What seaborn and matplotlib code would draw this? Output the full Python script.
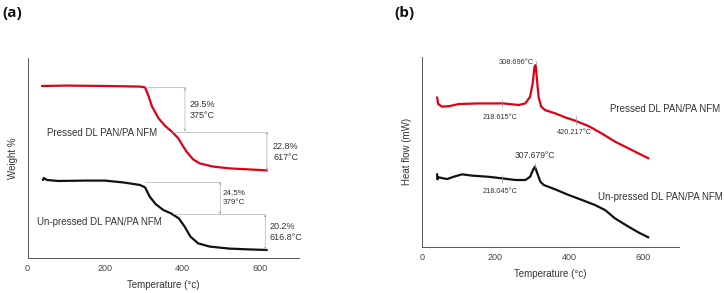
import numpy as np
import pandas as pd
import matplotlib
matplotlib.use("Agg")
import matplotlib.pyplot as plt
import seaborn as sns

# (a) TGA curves, weight in arbitrary display units
tga_pressed_T = [37, 100, 200, 290, 303, 311, 321, 338, 355, 372, 389, 399, 410, 427, 444, 478, 521, 570, 617]
tga_pressed_w = [86, 86.2, 86, 85.7, 85.3, 81.5, 75.7, 69.8, 66, 63.2, 59.8, 56.5, 53.2, 49.3, 47.3, 45.7, 44.8, 44.3, 43.8]
tga_unpressed_T = [40, 42, 50, 80, 150, 200, 250, 290, 303, 315, 330, 350, 370, 390, 405, 420, 440, 470, 520, 570, 617]
tga_unpressed_w = [39, 40, 39, 38.5, 38.7, 38.7, 37.7, 36.5, 35.3, 30.7, 27, 24, 22.3, 19.8, 15.7, 10.7, 7.3, 5.7, 4.7, 4.3, 4]

# (b) DSC curves, heat flow in arbitrary display units
dsc_pressed_T = [41, 44, 54, 75, 100, 154, 222, 263, 281, 294, 301, 306, 309, 312, 317, 324, 335, 362, 389, 417, 453, 489, 525, 553, 589, 616]
dsc_pressed_h = [78.6, 75.1, 73.7, 74.0, 75.1, 75.4, 75.4, 74.6, 75.4, 78.9, 86, 94.7, 95.6, 89.5, 78.9, 73.7, 71.9, 70.2, 68.1, 66.3, 63.5, 59.6, 55.3, 52.6, 49.1, 46.5]
dsc_unpressed_T = [41, 42, 45, 68, 86, 109, 136, 181, 217, 254, 281, 294, 302, 307, 312, 322, 331, 362, 399, 435, 471, 498, 525, 562, 589, 616]
dsc_unpressed_h = [38.2, 35.5, 36.5, 35.6, 36.8, 38.1, 37.4, 36.8, 36.0, 35.1, 35.1, 36.8, 40.4, 42.1, 39.5, 34.2, 32.5, 30.2, 27.2, 24.6, 21.9, 19.3, 14.9, 10.5, 7.5, 4.9]

labels = ["Pressed DL PAN/PA NFM", "Un-pressed DL PAN/PA NFM"]
xticks = [0, 200, 400, 600]

# weight-loss steps
tga_steps = [
    (303, 85.3, 406, 63.2, 372, 617, 43.8, "29.5%\n375°C", "22.8%\n617°C", (417, 74.2), (633, 53.2)),
    (303, 38.2, 497, 21.8, 375, 613, 4.0, "24.5%\n379°C", "20.2%\n616.8°C", (504, 29.9), (623, 13.0)),
]

# dsc peak markers: (T, y0, y1, text, text_x, text_y, ha)
dsc_marks = [
    (309, 95.6, 97.8, "308.696°C", 303, 97.0, "right"),
    (218.6, 73.7, 77.2, "218.615°C", 213, 68.1, "center"),
    (420.2, 64.0, 68.8, "420.217°C", 414, 60.0, "center"),
    (307.7, 41.2, 43.9, "307.679°C", 308, 48.1, "center"),
    (218.0, 33.7, 37.7, "218.045°C", 213, 29.3, "center"),
]

sns.set_style("white")
plt.rcParams['font.family'] = ['Liberation Sans', 'DejaVu Sans']
txt = "#333333"
gray = "#b0b0b0"

fig = plt.figure(figsize=(7.24, 2.93), dpi=100)
ax1 = fig.add_axes([0.038, 0.1195, 0.375, 0.6826])
ax2 = fig.add_axes([0.5829, 0.158, 0.3554, 0.6485])

tga = pd.concat([
    pd.DataFrame({"T": tga_pressed_T, "w": tga_pressed_w, "s": labels[0]}),
    pd.DataFrame({"T": tga_unpressed_T, "w": tga_unpressed_w, "s": labels[1]}),
])
dsc = pd.concat([
    pd.DataFrame({"T": dsc_pressed_T, "h": dsc_pressed_h, "s": labels[0]}),
    pd.DataFrame({"T": dsc_unpressed_T, "h": dsc_unpressed_h, "s": labels[1]}),
])
pal = {labels[0]: "#df0012", labels[1]: "#111111"}
sns.lineplot(data=tga, x="T", y="w", hue="s", palette=pal, sort=False,
             linewidth=1.6, legend=False, ax=ax1)
sns.lineplot(data=dsc, x="T", y="h", hue="s", palette=pal, sort=False,
             linewidth=1.6, legend=False, ax=ax2)

for ax, ylab in [(ax1, "Weight %"), (ax2, "Heat flow (mW)")]:
    ax.set_xlim(0, 700)
    ax.set_ylim(0, 100)
    ax.set_yticks([])
    ax.set_xticks(xticks)
    ax.set_xticks([100, 300, 500, 700], minor=True)
    ax.tick_params(axis="x", which="major", direction="inout", length=4, width=0.6,
                   labelsize=6.5, colors="#444444", pad=2.5)
    ax.tick_params(axis="x", which="minor", direction="in", length=2, width=0.6, colors="#444444")
    for s in ["top", "right"]:
        ax.spines[s].set_visible(False)
    for s in ["left", "bottom"]:
        ax.spines[s].set_color("#555555")
        ax.spines[s].set_linewidth(0.7)
    ax.set_xlabel("Temperature (°c)", fontsize=7, color=txt, labelpad=5)
    ax.set_ylabel(ylab, fontsize=7, color=txt, labelpad=7)

# TGA step annotations
for (x0, ytop, xs, ymid, xm, xe, ye, t1, t2, p1, p2) in tga_steps:
    ax1.plot([x0, xs], [ytop, ytop], color=gray, lw=0.5)
    ax1.plot([xm, xe], [ymid, ymid], color=gray, lw=0.5)
    ax1.annotate("", xy=(xs, ymid), xytext=(xs, ytop),
                 arrowprops=dict(arrowstyle="<|-|>", color=gray, lw=0.5, mutation_scale=3,
                                 shrinkA=0, shrinkB=0))
    ax1.annotate("", xy=(xe, ye), xytext=(xe, ymid),
                 arrowprops=dict(arrowstyle="<|-|>", color=gray, lw=0.5, mutation_scale=3,
                                 shrinkA=0, shrinkB=0))
    fs = 5.8 if t1.startswith("24") else 6.5
    ax1.text(p1[0], p1[1], t1, fontsize=fs, color=txt, va="center", ha="left", linespacing=1.3)
    ax1.text(p2[0], p2[1], t2, fontsize=6.5, color=txt, va="center", ha="left", linespacing=1.3)

ax1.text(49, 62.5, labels[0], fontsize=7, color=txt, va="center", ha="left")
ax1.text(25, 18.2, labels[1], fontsize=7, color=txt, va="center", ha="left")

# DSC peak markers
for (tx, y0, y1, t, lx, ly, ha) in dsc_marks:
    ax2.plot([tx, tx], [y0, y1], color="#999999", lw=0.5)
    fs = 6.2 if t == "307.679°C" else 5.3
    ax2.text(lx, ly, t, fontsize=fs, color=txt, va="center", ha=ha)

ax2.text(512, 72.5, labels[0], fontsize=7, color=txt, va="center", ha="left")
ax2.text(480, 26.3, labels[1], fontsize=7, color=txt, va="center", ha="left")

fig.text(0.003, 0.955, "(a)", fontsize=11, fontweight="bold", color="#111111",
         va="center", ha="left", family=["Open Sans", "DejaVu Sans"])
fig.text(0.545, 0.955, "(b)", fontsize=11, fontweight="bold", color="#111111",
         va="center", ha="left", family=["Open Sans", "DejaVu Sans"])

fig.savefig("out.png", dpi=100)
